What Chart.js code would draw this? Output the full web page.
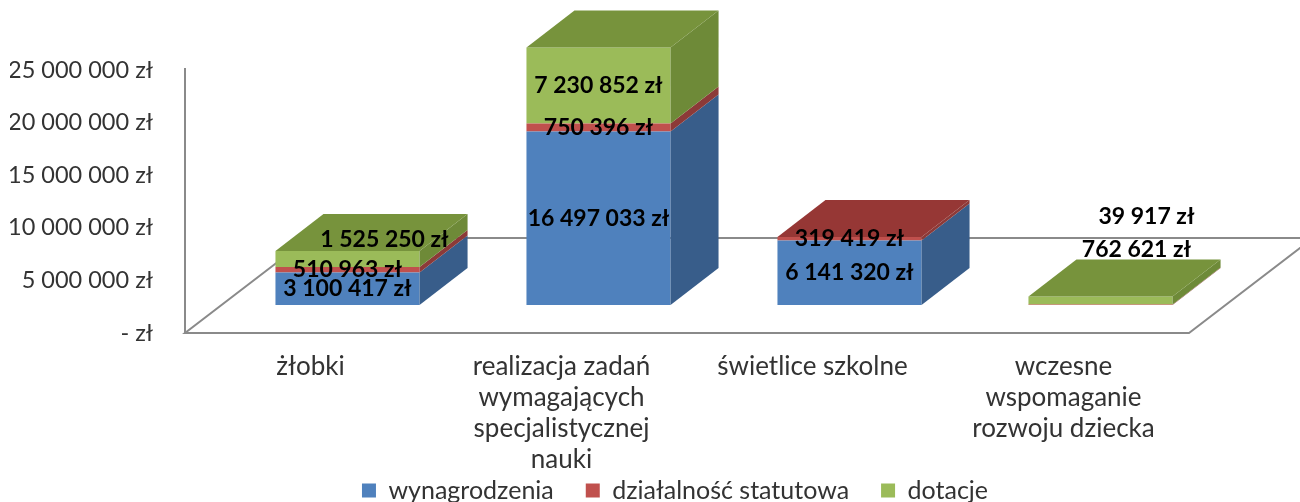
<!DOCTYPE html>
<html>
<head>
<meta charset="utf-8">
<script src="https://cdn.jsdelivr.net/npm/chart.js@4.4.0/dist/chart.umd.min.js"></script>
<style>
  html, body { margin: 0; padding: 0; background: #ffffff; }
  #wrap { width: 1300px; height: 502px; }
</style>
</head>
<body>
<div id="wrap"><canvas id="chart" width="1300" height="502"></canvas></div>
<script>
// ---- data ----
const categories = [
  ['żłobki'],
  ['realizacja zadań', 'wymagających', 'specjalistycznej', 'nauki'],
  ['świetlice szkolne'],
  ['wczesne', 'wspomaganie', 'rozwoju dziecka']
];
const seriesNames = ['wynagrodzenia', 'działalność statutowa', 'dotacje'];
const wynagrodzenia = [3100417, 16497033, 6141320, 0];
const dzialalnoscStatutowa = [510963, 750396, 319419, 39917];
const dotacje = [1525250, 7230852, 0, 762621];
const yTickValues = [0, 5000000, 10000000, 15000000, 20000000, 25000000];

// ---- styles ----
const frontColors = ['#4F81BD', '#C0504D', '#9BBB59'];
const sideColors  = ['#385D8A', '#8C3A38', '#6E8A38'];
const topColors   = ['#4A78B0', '#963735', '#77933C'];
const DEPTH = { dx: 48, dy: -37 };        // bar depth (3D)
const FRONT = { dx: -37, dy: 28 };        // floor front edge relative to bar plane
const BACK  = { dx: 87, dy: -67 };        // floor back edge relative to bar plane
const LEGEND_BOX = { left: 124, right: 1226, top: 446, bottom: 502 };
const FONT = 'Lato';
const TEXT = '#333333';

const fmt = v => v === 0 ? '- zł' :
  String(Math.round(v)).replace(/\B(?=(\d{3})+(?!\d))/g, ' ') + ' zł';

function poly(ctx, pts) {
  ctx.beginPath();
  ctx.moveTo(pts[0][0], pts[0][1]);
  for (let k = 1; k < pts.length; k++) ctx.lineTo(pts[k][0], pts[k][1]);
  ctx.closePath();
  ctx.fill();
}

const legendPlacer = {
  id: 'legendPlacer',
  afterLayout(chart) {
    const lg = chart.legend;
    if (!lg) return;
    lg.left = LEGEND_BOX.left; lg.right = LEGEND_BOX.right; lg.width = LEGEND_BOX.right - LEGEND_BOX.left;
    lg.top = LEGEND_BOX.top; lg.bottom = LEGEND_BOX.bottom; lg.height = LEGEND_BOX.bottom - LEGEND_BOX.top;
  }
};

const bar3d = {
  id: 'bar3d',
  beforeDatasetsDraw(chart) {
    const { ctx, chartArea: a, scales: { y } } = chart;
    ctx.save();
    ctx.strokeStyle = '#8a8a8a';
    ctx.lineWidth = 2;
    const fl = [a.left + FRONT.dx, a.bottom + FRONT.dy];
    const fr = [a.right + FRONT.dx, a.bottom + FRONT.dy];
    const br = [a.right + BACK.dx, a.bottom + BACK.dy];
    const bl = [a.left + BACK.dx, a.bottom + BACK.dy];
    ctx.beginPath();
    ctx.moveTo(bl[0], bl[1]);
    ctx.lineTo(fl[0], fl[1]);
    ctx.lineTo(fr[0], fr[1]);
    ctx.lineTo(br[0], br[1]);
    ctx.lineTo(bl[0], bl[1]);
    ctx.stroke();
    ctx.beginPath();
    ctx.moveTo(fl[0], y.getPixelForValue(y.max) + FRONT.dy - 2);
    ctx.lineTo(fl[0], fl[1]);
    ctx.stroke();
    ctx.restore();
  },
  afterDatasetsDraw(chart, args, opts) {
    const ctx = chart.ctx;
    const dsets = chart.data.datasets;
    const n = chart.data.labels.length;
    ctx.save();
    for (let j = 0; j < n; j++) {
      let topDs = -1;
      dsets.forEach((ds, i) => { if (chart.isDatasetVisible(i) && ds.data[j] > 0) topDs = i; });
      dsets.forEach((ds, i) => {
        if (!chart.isDatasetVisible(i) || !(ds.data[j] > 0)) return;
        const el = chart.getDatasetMeta(i).data[j];
        const { x, y, base, width } = el.getProps(['x', 'y', 'base', 'width'], true);
        const l = x - width / 2, r = x + width / 2;
        ctx.fillStyle = sideColors[i];
        poly(ctx, [[r, y], [r + DEPTH.dx, y + DEPTH.dy], [r + DEPTH.dx, base + DEPTH.dy], [r, base]]);
        if (i === topDs) {
          ctx.fillStyle = topColors[i];
          poly(ctx, [[l, y], [l + DEPTH.dx, y + DEPTH.dy], [r + DEPTH.dx, y + DEPTH.dy], [r, y]]);
        }
      });
    }
    // data labels
    ctx.font = 'bold 23px ' + FONT;
    ctx.fillStyle = '#000000';
    ctx.textAlign = 'center';
    ctx.textBaseline = 'middle';
    dsets.forEach((ds, i) => {
      if (!chart.isDatasetVisible(i)) return;
      chart.getDatasetMeta(i).data.forEach((el, j) => {
        const v = ds.data[j];
        if (!(v > 0)) return;
        const { x, y, base } = el.getProps(['x', 'y', 'base'], true);
        const nudge = (opts.nudges && opts.nudges[j + ':' + i]) || [0, 0];
        ctx.fillText(fmt(v), x + nudge[0], (y + base) / 2 + nudge[1]);
      });
    });
    ctx.restore();
  }
};

const seriesData = [wynagrodzenia, dzialalnoscStatutowa, dotacje];

new Chart(document.getElementById('chart'), {
  type: 'bar',
  data: {
    labels: categories,
    datasets: seriesNames.map((name, i) => ({
      label: name,
      data: seriesData[i],
      backgroundColor: frontColors[i],
      borderWidth: 0,
      barPercentage: 0.574,
      categoryPercentage: 1
    }))
  },
  plugins: [legendPlacer, bar3d],
  options: {
    responsive: false,
    animation: false,
    layout: { padding: { top: 42, left: 10, right: 74, bottom: 0 } },
    plugins: {
      legend: {
        position: 'bottom',
        maxHeight: 1,
        labels: {
          font: { family: FONT, size: 25 },
          color: TEXT,
          boxWidth: 14,
          boxHeight: 14,
          padding: 32
        }
      },
      tooltip: { enabled: false },
      bar3d: {
        nudges: { '0:2': [37, -19], '3:1': [46, -88], '3:2': [36, -51] }
      }
    },
    scales: {
      x: {
        stacked: true,
        grid: { display: false, drawTicks: true, tickLength: 46 },
        border: { display: false },
        ticks: {
          font: { family: FONT, size: 26, lineHeight: 1.19 },
          color: TEXT,
          padding: 0,
          labelOffset: FRONT.dx,
          maxRotation: 0,
          autoSkip: false
        },
        afterFit(s) { s.height = 196; }
      },
      y: {
        stacked: true,
        min: yTickValues[0],
        max: yTickValues[yTickValues.length - 1],
        grid: { display: false, drawTicks: true, tickLength: 69 },
        border: { display: false },
        ticks: {
          font: { family: FONT, size: 23.5 },
          color: TEXT,
          padding: 0,
          labelOffset: FRONT.dy,
          callback: v => fmt(v)
        },
        afterBuildTicks(s) { s.ticks = yTickValues.map(v => ({ value: v })); },
        afterFit(s) { s.width = 212; }
      }
    }
  }
});
</script>
</body>
</html>
